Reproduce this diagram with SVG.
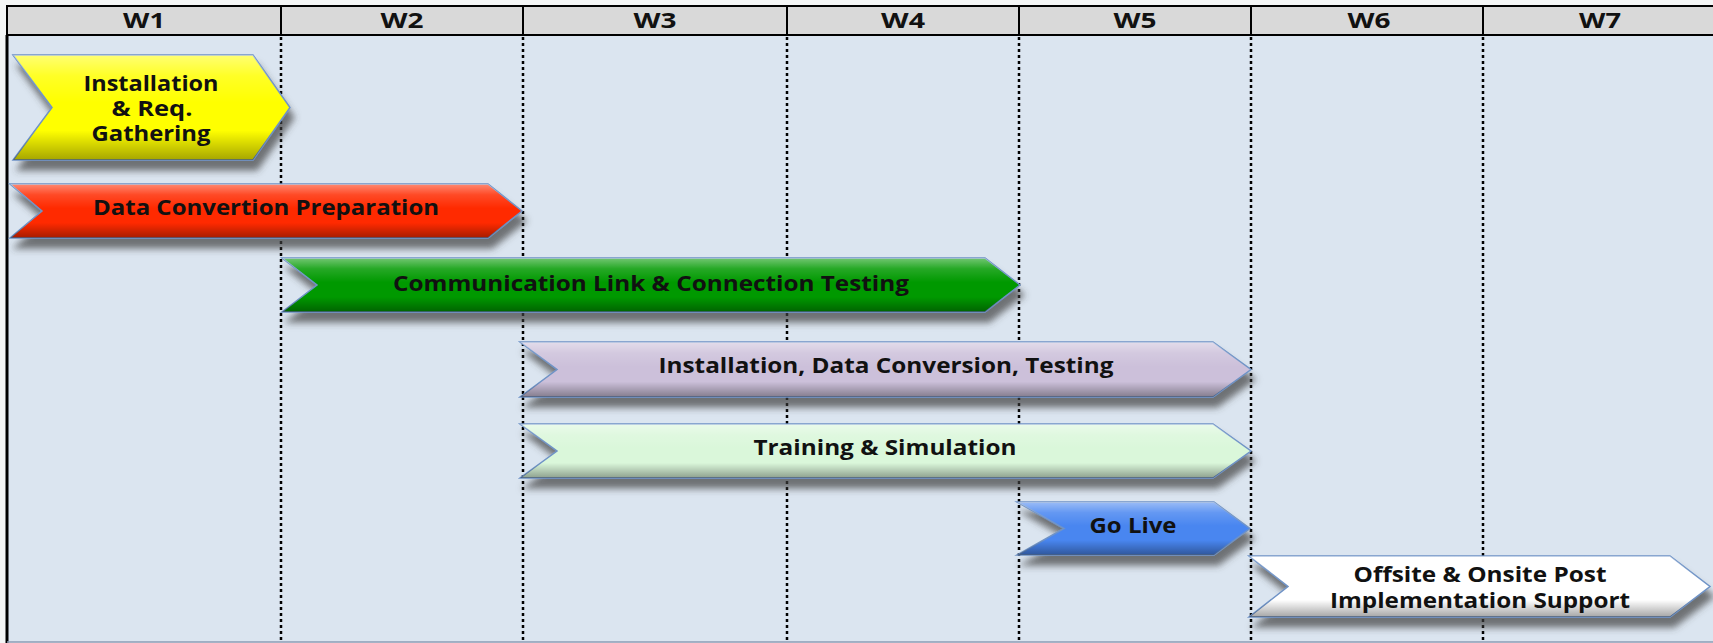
<svg xmlns="http://www.w3.org/2000/svg" width="1713" height="643" viewBox="0 0 1713 643">
<defs>
<linearGradient id="bevel" x1="0" y1="0" x2="0" y2="1">
<stop offset="0" stop-color="#ffffff" stop-opacity="0.45"/>
<stop offset="0.2" stop-color="#ffffff" stop-opacity="0.15"/>
<stop offset="0.45" stop-color="#ffffff" stop-opacity="0"/>
<stop offset="0.72" stop-color="#000000" stop-opacity="0"/>
<stop offset="1" stop-color="#000000" stop-opacity="0.35"/>
</linearGradient>
<filter id="shadow" x="-5%" y="-20%" width="115%" height="170%">
<feDropShadow dx="4" dy="10" stdDeviation="3.5" flood-color="#404040" flood-opacity="0.7"/>
</filter>
</defs>
<style>
.hdr{fill:#d9d9d9;stroke:#000;stroke-width:2}
.hdiv{stroke:#000;stroke-width:2}
.div{stroke:#000;stroke-width:2.5;stroke-dasharray:3 3}
.shape{stroke:#6f93c6;stroke-width:1.5;filter:url(#shadow)}
.bev{fill:url(#bevel);stroke:none}
.ht{font-family:"Open Sans","Liberation Sans",sans-serif;font-weight:700;font-size:21px;fill:#111;text-anchor:middle}
.t{font-family:"Open Sans","Liberation Sans",sans-serif;font-weight:700;font-size:21px;fill:#111;text-anchor:middle}
</style>
<rect x="0" y="0" width="1713" height="643" fill="#f4f6f6"/>
<rect x="7" y="35" width="1706" height="607" fill="#dbe5f0"/>
<line x1="7" y1="35" x2="7" y2="643" stroke="#000" stroke-width="3"/>
<line x1="7" y1="642" x2="1713" y2="642" stroke="#8b9bb4" stroke-width="1.5"/>
<g id="header">
<rect class="hdr" x="7" y="6" width="1710" height="29"/>
<line class="hdiv" x1="281" y1="6" x2="281" y2="35"/>
<line class="hdiv" x1="523" y1="6" x2="523" y2="35"/>
<line class="hdiv" x1="787" y1="6" x2="787" y2="35"/>
<line class="hdiv" x1="1019" y1="6" x2="1019" y2="35"/>
<line class="hdiv" x1="1251" y1="6" x2="1251" y2="35"/>
<line class="hdiv" x1="1483" y1="6" x2="1483" y2="35"/>
<text class="ht" x="144" y="28" textLength="42" lengthAdjust="spacingAndGlyphs">W1</text>
<text class="ht" x="402" y="28" textLength="43" lengthAdjust="spacingAndGlyphs">W2</text>
<text class="ht" x="655" y="28" textLength="43" lengthAdjust="spacingAndGlyphs">W3</text>
<text class="ht" x="903" y="28" textLength="44" lengthAdjust="spacingAndGlyphs">W4</text>
<text class="ht" x="1135" y="28" textLength="43" lengthAdjust="spacingAndGlyphs">W5</text>
<text class="ht" x="1369" y="28" textLength="43" lengthAdjust="spacingAndGlyphs">W6</text>
<text class="ht" x="1600" y="28" textLength="42" lengthAdjust="spacingAndGlyphs">W7</text>
</g>
<g id="connectors">
<line class="div" x1="281" y1="37" x2="281" y2="642"/>
<line class="div" x1="523" y1="37" x2="523" y2="642"/>
<line class="div" x1="787" y1="37" x2="787" y2="642"/>
<line class="div" x1="1019" y1="37" x2="1019" y2="642"/>
<line class="div" x1="1251" y1="37" x2="1251" y2="642"/>
<line class="div" x1="1483" y1="37" x2="1483" y2="642"/>
</g>
<g id="task-installation-req">
<polygon class="shape" fill="#ffff00" points="13,55 253,55 290,107.5 253,160 13,160 52,107.5"/>
<polygon class="bev" points="13,55 253,55 290,107.5 253,160 13,160 52,107.5"/>
<text class="t" x="151" y="91" textLength="135" lengthAdjust="spacingAndGlyphs">Installation</text>
<text class="t" x="152" y="116" textLength="81" lengthAdjust="spacingAndGlyphs">&amp; Req.</text>
<text class="t" x="151" y="141" textLength="119" lengthAdjust="spacingAndGlyphs">Gathering</text>
</g>
<g id="task-data-convertion">
<polygon class="shape" fill="#ff2a00" points="10,184 488,184 522,211 488,238 10,238 42,211"/>
<polygon class="bev" points="10,184 488,184 522,211 488,238 10,238 42,211"/>
<text class="t" x="266" y="215" textLength="346" lengthAdjust="spacingAndGlyphs">Data Convertion Preparation</text>
</g>
<g id="task-communication">
<polygon class="shape" fill="#009900" points="282,258 985,258 1020,285 985,312 282,312 317,285"/>
<polygon class="bev" points="282,258 985,258 1020,285 985,312 282,312 317,285"/>
<text class="t" x="651" y="291" textLength="516" lengthAdjust="spacingAndGlyphs">Communication Link &amp; Connection Testing</text>
</g>
<g id="task-installation-testing">
<polygon class="shape" fill="#ccc0da" points="520,342 1213,342 1251,369.5 1213,397 520,397 557,369.5"/>
<polygon class="bev" points="520,342 1213,342 1251,369.5 1213,397 520,397 557,369.5"/>
<text class="t" x="886" y="373" textLength="455" lengthAdjust="spacingAndGlyphs">Installation, Data Conversion, Testing</text>
</g>
<g id="task-training">
<polygon class="shape" fill="#daf7da" points="520,424 1213,424 1251,451 1213,478 520,478 557,451"/>
<polygon class="bev" points="520,424 1213,424 1251,451 1213,478 520,478 557,451"/>
<text class="t" x="885" y="455" textLength="263" lengthAdjust="spacingAndGlyphs">Training &amp; Simulation</text>
</g>
<g id="task-go-live">
<polygon class="shape" fill="#4a86f0" points="1017,502 1214,502 1250,528.5 1214,555 1017,555 1064,528.5"/>
<polygon class="bev" points="1017,502 1214,502 1250,528.5 1214,555 1017,555 1064,528.5"/>
<text class="t" x="1133" y="533" textLength="87" lengthAdjust="spacingAndGlyphs">Go Live</text>
</g>
<g id="task-post-implementation">
<polygon class="shape" fill="#ffffff" points="1249,556 1670,556 1710,586.5 1670,617 1249,617 1288,586.5"/>
<polygon class="bev" points="1249,556 1670,556 1710,586.5 1670,617 1249,617 1288,586.5"/>
<text class="t" x="1480" y="582" textLength="253" lengthAdjust="spacingAndGlyphs">Offsite &amp; Onsite Post</text>
<text class="t" x="1480" y="608" textLength="300" lengthAdjust="spacingAndGlyphs">Implementation Support</text>
</g>
</svg>
